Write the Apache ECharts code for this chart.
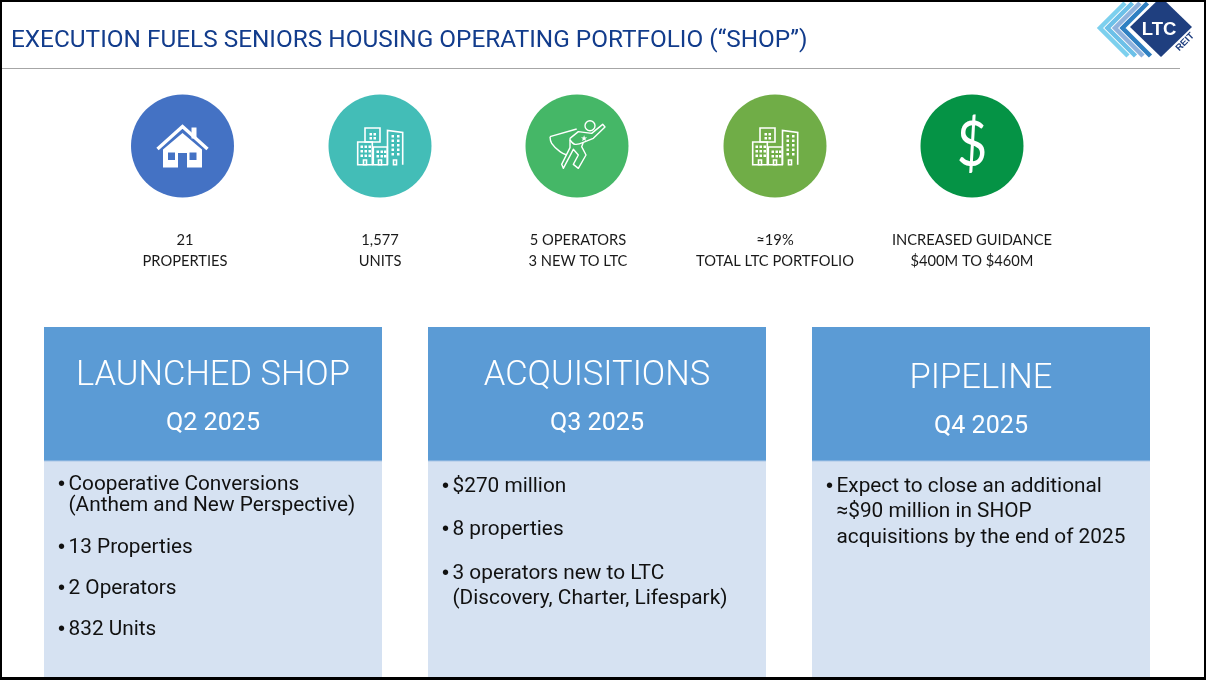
<!DOCTYPE html>
<html><head><meta charset="utf-8">
<style>html,body{margin:0;padding:0;background:#fff}#c{width:1206px;height:680px}</style>
<script src="https://cdn.jsdelivr.net/npm/echarts@6/dist/echarts.min.js"></script></head>
<body><div id="c"></div>
<script>
const pageTitle = 'EXECUTION FUELS SENIORS HOUSING OPERATING PORTFOLIO (“SHOP”)';
const statTop = ['21','1,577','5 OPERATORS','≈19%','INCREASED GUIDANCE'];
const statBottom = ['PROPERTIES','UNITS','3 NEW TO LTC','TOTAL LTC PORTFOLIO','$400M TO $460M'];
const cardTitles = ['LAUNCHED SHOP','ACQUISITIONS','PIPELINE'];
const cardPeriods = ['Q2 2025','Q3 2025','Q4 2025'];
const cardLines = [
 ['• Cooperative Conversions','(Anthem and New Perspective)','• 13 Properties','• 2 Operators','• 832 Units'],
 ['• $270 million','• 8 properties','• 3 operators new to LTC','(Discovery, Charter, Lifespark)'],
 ['• Expect to close an additional','≈$90 million in SHOP','acquisitions by the end of 2025']
];

const els = [];
const meas = document.createElement('canvas').getContext('2d');
const fit = (s,weight,family,w) => { meas.font = `${weight} 100px ${family}`; return 100*w/meas.measureText(s).width; };
const txt = (x,y,s,font,fill,align,extra) => els.push(Object.assign({type:'text',x,y,z:5,style:{text:s,fill,font,align:align||'left',verticalAlign:'middle'}},extra||{}));
const rect = (x,y,w,h,fill,z) => els.push({type:'rect',z:z||1,shape:{x,y,width:w,height:h},style:{fill}});
const poly = (pts,style,closed,smooth) => els.push({type:closed?'polygon':'polyline',z:4,shape:{points:pts,smooth:smooth||0},style});

const TITLE_FAM='Roboto', CAP_FAM='Lato', CARD_FAM='Roboto';
const titleSize = fit(pageTitle,400,TITLE_FAM,797);
const capSize = fit('TOTAL LTC PORTFOLIO',400,CAP_FAM,158);
const headSize = fit('LAUNCHED SHOP',300,CARD_FAM,274);
const subSize = fit('Q2 2025',400,CARD_FAM,94);
const bodySize = fit('acquisitions by the end of 2025',400,CARD_FAM,289);

// Title & rule
txt(11,40.5,pageTitle,`400 ${titleSize}px ${TITLE_FAM}`,'#123C8C');
rect(2,68,1178,1,'#a6a6a6');

// Logo
const chevrons = [[1100,'#7cd0ee'],[1107.5,'#6cc0e8'],[1115,'#8fb2dd'],[1122.5,'#2f80c2']];
chevrons.forEach(([x,c])=>poly([[x+25,3],[x,28],[x+28,56]],{stroke:c,fill:null,lineWidth:4.5}));
poly([[1161,-3],[1192,27],[1161,57],[1130,27]],{fill:'#1F3F7F'},true);
txt(1159,29.5,'LTC','bold 18.5px "Liberation Sans"','#fff','center',{z:6});
txt(1185,42,'REIT','bold 9.5px "Liberation Sans"','#1F3F7F','center',{z:6,rotation:Math.PI/4});

// Icon circles
const cx = [182.5,380,577,775,972], cy = 146, R = 51.5;
const circleColors = ['#4472C4','#43BDB7','#45B767','#70AD47','#059345'];
cx.forEach((x,i)=>els.push({type:'circle',z:2,shape:{cx:x,cy,r:R},style:{fill:circleColors[i]}}));

// House
const hx = cx[0], hy = cy;
poly([[hx-19.5,hy+3.5],[hx-19.5,hy+21.5],[hx-4.5,hy+21.5],[hx-4.5,hy+7],[hx+4.5,hy+7],[hx+4.5,hy+21.5],[hx+19.5,hy+21.5],[hx+19.5,hy+3.5],[hx,hy-13]],{fill:'#fff'},true);
poly([[hx-25,hy+3],[hx,hy-19.5],[hx+25,hy+3]],{fill:null,stroke:'#fff',lineWidth:3.4});
rect(hx+9,hy-18.5,5,11,'#fff',4);
[-14.5,7].forEach(dx=>rect(hx+dx,hy+6.5,7,7.5,circleColors[0],5));

// Buildings
function buildings(ox,oy){
  const st={fill:null,stroke:'#fff',lineWidth:1.6};
  const b=[[-22.3,-4,14.6,22.7],[-15,-18,15,14],[-6.7,1,14,17.7]];
  b.forEach(([x,y,w,h])=>els.push({type:'rect',z:4,shape:{x:ox+x,y:oy+y,width:w,height:h},style:st}));
  poly([[ox+7.5,oy+18.7],[ox+7.5,oy-15.5],[ox+22.7,oy-13.5],[ox+22.7,oy+18.7]],st);
  const dot=(x,y)=>rect(ox+x,oy+y,2.5,2.5,'#fff',4);
  for(const y of [-13,-9]) for(const x of [-10.5,-6.5]) dot(x,y);
  for(const y of [-0.5,4,8.5]) for(const x of [-19.5,-15.5,-11.5]) dot(x,y);
  for(const y of [4.5,9]) for(const x of [-3.5,0.5,4]) dot(x,y);
  for(const y of [-11,-6.5,-2,2.5,7]) for(const x of [11.5,17]) dot(x,y);
  [[-16.5,14],[-1.5,14],[13.5,14]].forEach(([x,y])=>els.push({type:'rect',z:4,shape:{x:ox+x,y:oy+y,width:3,height:4.7},style:st}));
}
buildings(cx[1],cy);
buildings(cx[3],cy);

const line={fill:null,stroke:'#fff',lineWidth:1.4,lineJoin:'round'};
const Z=a=>a.map(([x,y])=>[550+x/3,105+y/3]);
els.push({type:'circle',z:4,shape:{cx:590,cy:125.7,r:5},style:line});
poly(Z([[60,100],[85,80],[125,85],[158,58],[165,66],[130,100],[100,112],[95,125],[108,150],[85,190],[70,178],[85,150],[70,133],[40,190],[35,178],[60,128],[60,100]]),line);
poly(Z([[0,95],[80,72]]),line);
poly(Z([[0,95],[5,115],[30,140],[50,150]]),line,false,0.4);
poly(Z([[60,105],[75,118],[100,112]]),line,false,0.4);
txt(584,138.5,'★','8px "DejaVu Sans"','#fff','center');

// Dollar
txt(cx[4],cy,'$','62px Lato','#fff','center',{scaleX:0.85});

// Stat captions
const capX=[185,380,578,775,972];
statTop.forEach((s,i)=>txt(capX[i],240.5,s,`400 ${capSize}px ${CAP_FAM}`,'#1a1a1a','center'));
statBottom.forEach((s,i)=>txt(capX[i],261.5,s,`400 ${capSize}px ${CAP_FAM}`,'#1a1a1a','center'));

// Cards
const cardX=[44,428,812], cardW=338;
const headY=[376.5,376.5,379.5], subY=[423.5,423.5,426.5];
const lineY=[[484.5,506,547.5,588.5,629.5],[486.5,529.5,573.5,598.5],[486.5,512,537.5]];
cardX.forEach((x,i)=>{
  rect(x,327,cardW,134,'#5B9BD5',1);
  rect(x,461,cardW,216,'#D6E2F2',1);
  rect(x,460.5,cardW,1,'#a9c5e6',2);
  txt(x+cardW/2,headY[i],cardTitles[i],`300 ${headSize}px ${CARD_FAM}`,'#fff','center');
  txt(x+cardW/2,subY[i],cardPeriods[i],`400 ${subSize}px ${CARD_FAM}`,'#fff','center');
  cardLines[i].forEach((s,j)=>{
    const bullet=s.startsWith('• ');
    if(bullet) txt(x+17.5,lineY[i][j],'•',`400 20px "Liberation Sans"`,'#111','center');
    txt(x+24.5,lineY[i][j],bullet?s.slice(2):s,`400 ${bodySize}px ${CARD_FAM}`,'#111');
  });
});

// Outer frame
rect(0,0,1206,2,'#000',9); rect(0,677,1206,3,'#000',9); rect(0,0,2,680,'#000',9); rect(1204,0,2,680,'#000',9);

const chart = echarts.init(document.getElementById('c'),null,{renderer:'canvas'});
chart.setOption({animation:false,backgroundColor:'#fff',graphic:{elements:els}});
</script></body></html>
